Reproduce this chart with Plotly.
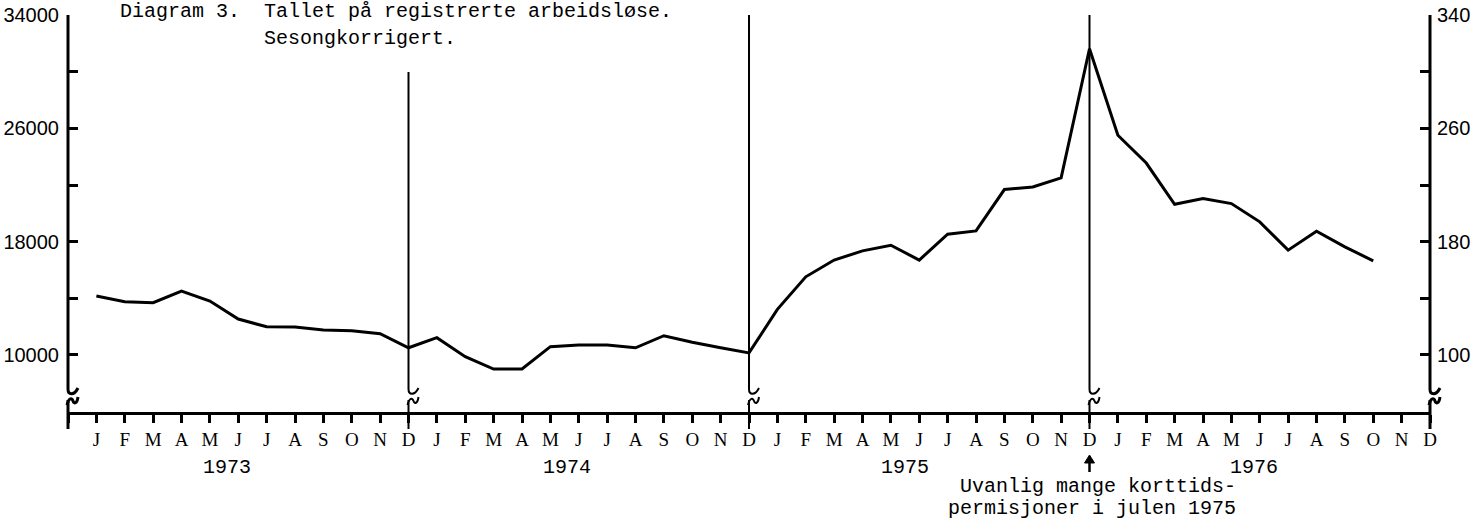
import plotly.graph_objects as go

# ---------------- data ----------------
years = ["1973", "1974", "1975", "1976"]
month_letters = ["J", "F", "M", "A", "M", "J", "J", "A", "S", "O", "N", "D"]

unemployed_1973 = [14160, 13760, 13690, 14510, 13810, 12540, 11990, 11970, 11760, 11710, 11500, 10510]
unemployed_1974 = [11220, 9880, 9010, 9010, 10590, 10700, 10700, 10510, 11360, 10900, 10510, 10150]
unemployed_1975 = [13220, 15520, 16700, 17350, 17750, 16700, 18530, 18760, 21680, 21860, 22500, 31620]
unemployed_1976 = [25510, 23550, 20640, 21040, 20690, 19400, 17400, 18740, 17630, 16650]

left_tickvals = [10000, 14000, 18000, 22000, 26000, 30000, 34000]
left_ticktext = ["10000", "", "18000", "", "26000", "", "34000"]
right_tickvals = [100, 140, 180, 220, 260, 300, 340]
right_ticktext = ["100", "", "180", "", "260", "", "340"]

title_line1 = "Diagram 3.  Tallet på registrerte arbeidsløse."
title_line2 = "Sesongkorrigert."
note_line1 = "Uvanlig mange korttids-"
note_line2 = "permisjoner i julen 1975"

values = unemployed_1973 + unemployed_1974 + unemployed_1975 + unemployed_1976
month_index = list(range(1, len(values) + 1))
n_months = 12 * len(years)

# ---------------- geometry helpers ----------------
W, H = 1476, 525
L, R, T, B = 68, 1430, 15, 412
YMIN, YMAX = 5976, 34000


def xpap(m, dx=0.0):
    return m / n_months + dx / (R - L)


def ypap(py):
    return (B - py) / (B - T)


def break_shapes(m, top_py, width):
    shapes = []
    x0 = xpap(m)
    shapes.append(dict(type="line", xref="paper", yref="paper",
                       x0=x0, x1=x0, y0=ypap(top_py), y1=ypap(389),
                       line=dict(color="black", width=width)))

    def P(dx, py):
        return f"{xpap(m, dx):.6f},{ypap(py):.6f}"

    hook = f"M {P(0,389)} C {P(0,395)} {P(6,396)} {P(10,388)}"
    tilde = f"M {P(-1,405)} C {P(1,397)} {P(4,398)} {P(5,401)} S {P(9,404)} {P(10,397)}"
    for p in (hook, tilde):
        shapes.append(dict(type="path", xref="paper", yref="paper", path=p,
                           line=dict(color="black", width=width)))
    shapes.append(dict(type="line", xref="paper", yref="paper",
                       x0=x0, x1=x0, y0=ypap(400), y1=ypap(429),
                       line=dict(color="black", width=width)))
    return shapes


def up_arrow(m):
    def P(dx, py):
        return f"{xpap(m, dx):.6f},{ypap(py):.6f}"
    return [
        dict(type="line", xref="paper", yref="paper",
             x0=xpap(m), x1=xpap(m), y0=ypap(472), y1=ypap(460),
             line=dict(color="black", width=2.5)),
        dict(type="path", xref="paper", yref="paper",
             path=f"M {P(-5,463)} L {P(0,455)} L {P(5,463)} Z",
             fillcolor="black", line=dict(color="black", width=1)),
    ]


fig = go.Figure()
fig.add_trace(go.Scatter(x=month_index, y=values, mode="lines",
                         line=dict(color="black", width=3), showlegend=False,
                         hoverinfo="skip"))
# invisible trace for the right axis
fig.add_trace(go.Scatter(x=[month_index[0]], y=[values[0] / 100], yaxis="y2",
                         mode="markers", marker=dict(opacity=0), showlegend=False,
                         hoverinfo="skip"))

shapes = []
shapes += break_shapes(0, T, 3)
shapes += break_shapes(12, 72, 2)
shapes += break_shapes(24, T, 2)
shapes += break_shapes(36, T, 2)
shapes += break_shapes(48, T, 3)
shapes += up_arrow(36)

annotations = [
    dict(text=title_line1, x=xpap(0, 118 - L), y=ypap(12), xref="paper", yref="paper",
         xanchor="left", yanchor="middle", showarrow=False,
         font=dict(family="Liberation Mono", size=20, color="black")),
    dict(text=title_line2, x=xpap(0, 262 - L), y=ypap(38), xref="paper", yref="paper",
         xanchor="left", yanchor="middle", showarrow=False,
         font=dict(family="Liberation Mono", size=20, color="black")),
    dict(text=note_line1, x=xpap(0, 1238 - L), y=ypap(486), xref="paper", yref="paper",
         xanchor="right", yanchor="middle", showarrow=False,
         font=dict(family="Liberation Mono", size=20, color="black")),
    dict(text=note_line2, x=xpap(0, 1238 - L), y=ypap(509), xref="paper", yref="paper",
         xanchor="right", yanchor="middle", showarrow=False,
         font=dict(family="Liberation Mono", size=20, color="black")),
]
year_centres = [5.6, 17.6, 29.5, 41.8]
for yr, c in zip(years, year_centres):
    annotations.append(dict(text=yr, x=xpap(c), y=ypap(467), xref="paper", yref="paper",
                            xanchor="center", yanchor="middle", showarrow=False,
                            font=dict(family="Liberation Mono", size=20, color="black")))

fig.update_layout(
    width=W, height=H,
    margin=dict(l=L, r=W - R, t=T, b=H - B, autoexpand=False),
    paper_bgcolor="white", plot_bgcolor="white",
    showlegend=False,
    xaxis=dict(range=[0, n_months], tickvals=list(range(0, n_months + 1)),
               ticktext=[""] + month_letters * len(years), automargin=False,
               showgrid=False, zeroline=False, showline=True, linecolor="black",
               linewidth=3, ticks="outside", ticklen=8, tickwidth=2.5, tickcolor="black",
               tickfont=dict(family="Liberation Serif", size=19, color="black")),
    yaxis=dict(range=[YMIN, YMAX], tickvals=left_tickvals, ticktext=left_ticktext,
               automargin=False, ticklabelstandoff=8,
               showgrid=False, zeroline=False, showline=False,
               ticks="inside", ticklen=10, tickwidth=3, tickcolor="black",
               tickfont=dict(family="Liberation Sans", size=20, color="black")),
    yaxis2=dict(range=[YMIN / 100, YMAX / 100], overlaying="y", side="right",
                tickvals=right_tickvals, ticktext=right_ticktext,
                automargin=False, ticklabelstandoff=6,
                showgrid=False, zeroline=False, showline=False,
                ticks="inside", ticklen=10, tickwidth=3, tickcolor="black",
                tickfont=dict(family="Liberation Sans", size=20, color="black")),
    shapes=shapes,
    annotations=annotations,
)

fig.write_html("out.html", config={"displayModeBar": False},
               post_script="document.body.style.margin='0';")
